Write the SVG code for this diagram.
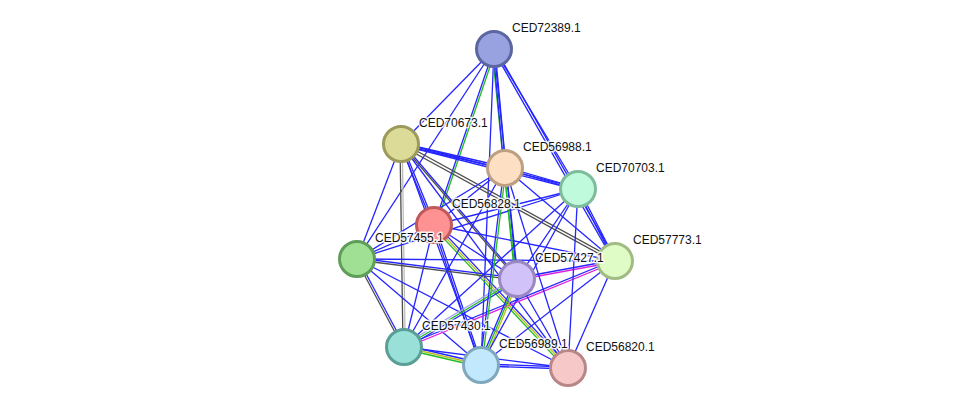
<svg xmlns="http://www.w3.org/2000/svg" width="976" height="414" viewBox="0 0 976 414">
<style>
line{stroke-width:1.3;fill:none}
.b{stroke:#2525ff}
.g{stroke:#22bb22}
.y{stroke:#bcbc22}
.m{stroke:#dd22dd}
.k{stroke:#4e4e4e}
.q{stroke:#bdbdbd}
.l{stroke:#9f9ff0}
circle{stroke-width:3}
text{font-family:"Liberation Sans",Arial,sans-serif;font-size:12px;fill:#111;stroke:#fff;stroke-width:3;stroke-opacity:0.85;paint-order:stroke;stroke-linejoin:round}
</style>
<rect width="976" height="414" fill="#fff"/>
<g id="edges">
<line class="b" x1="494" y1="49" x2="401" y2="144"/>
<line class="b" x1="494" y1="49" x2="357" y2="259"/>
<line class="b" x1="494" y1="49" x2="578" y2="189"/>
<line class="b" x1="494" y1="49" x2="481" y2="365"/>
<line class="b" x1="494" y1="49" x2="434" y2="225"/>
<line class="g" x1="494" y1="49" x2="434" y2="225" transform="translate(2,0)"/>
<line class="b" x1="494" y1="49" x2="517" y2="279"/>
<line class="g" x1="494" y1="49" x2="517" y2="279" transform="translate(-2,0)"/>
<line class="b" x1="494" y1="49" x2="505" y2="168" transform="translate(-1,0)"/>
<line class="b" x1="494" y1="49" x2="505" y2="168" transform="translate(1,0)"/>
<line class="b" x1="494" y1="49" x2="615" y2="261" transform="translate(-1,0.6)"/>
<line class="b" x1="494" y1="49" x2="615" y2="261" transform="translate(1,-0.6)"/>
<line class="b" x1="401" y1="144" x2="357" y2="259"/>
<line class="b" x1="401" y1="144" x2="434" y2="225" transform="translate(-1,0)"/>
<line class="b" x1="401" y1="144" x2="434" y2="225" transform="translate(1,0)"/>
<line class="b" x1="401" y1="144" x2="568" y2="368"/>
<line class="b" x1="401" y1="144" x2="481" y2="365"/>
<line class="b" x1="401" y1="144" x2="517" y2="279" transform="translate(1.2,-1)"/>
<line class="k" x1="401" y1="144" x2="517" y2="279"/>
<line class="b" x1="401" y1="144" x2="505" y2="168" transform="translate(0,-1)"/>
<line class="b" x1="401" y1="144" x2="505" y2="168" transform="translate(0,1)"/>
<line class="b" x1="401" y1="144" x2="578" y2="189" transform="translate(0,-1)"/>
<line class="b" x1="401" y1="144" x2="578" y2="189" transform="translate(0,1)"/>
<line class="k" x1="401" y1="144" x2="615" y2="261" transform="translate(-0.7,1.2)"/>
<line class="k" x1="401" y1="144" x2="615" y2="261" transform="translate(0.7,-1.2)"/>
<line class="k" x1="401" y1="144" x2="404" y2="347" transform="translate(-1,0)"/>
<line class="q" x1="401" y1="144" x2="404" y2="347" transform="translate(1.2,0)"/>
<line class="b" x1="434" y1="225" x2="357" y2="259"/>
<line class="b" x1="434" y1="225" x2="517" y2="279"/>
<line class="b" x1="434" y1="225" x2="615" y2="261"/>
<line class="b" x1="434" y1="225" x2="578" y2="189"/>
<line class="b" x1="434" y1="225" x2="505" y2="168"/>
<line class="b" x1="434" y1="225" x2="404" y2="347"/>
<line class="b" x1="434" y1="225" x2="481" y2="365" transform="translate(-1,0)"/>
<line class="b" x1="434" y1="225" x2="481" y2="365" transform="translate(1,0)"/>
<line class="b" x1="434" y1="225" x2="568" y2="368" transform="translate(1.5,-1.4)"/>
<line class="y" x1="434" y1="225" x2="568" y2="368"/>
<line class="g" x1="434" y1="225" x2="568" y2="368" transform="translate(-1.5,1.4)"/>
<line class="b" x1="357" y1="259" x2="615" y2="261"/>
<line class="b" x1="357" y1="259" x2="481" y2="365"/>
<line class="b" x1="357" y1="259" x2="568" y2="368"/>
<line class="b" x1="357" y1="259" x2="505" y2="168"/>
<line class="b" x1="357" y1="259" x2="578" y2="189"/>
<line class="k" x1="357" y1="259" x2="517" y2="279" transform="translate(0,1)"/>
<line class="b" x1="357" y1="259" x2="517" y2="279" transform="translate(0,-1)"/>
<line class="k" x1="357" y1="259" x2="404" y2="347" transform="translate(-0.9,0.5)"/>
<line class="b" x1="357" y1="259" x2="404" y2="347" transform="translate(0.9,-0.5)"/>
<line class="b" x1="615" y1="261" x2="481" y2="365"/>
<line class="b" x1="615" y1="261" x2="568" y2="368"/>
<line class="b" x1="615" y1="261" x2="505" y2="168"/>
<line class="b" x1="615" y1="261" x2="578" y2="189" transform="translate(-1,0)"/>
<line class="b" x1="615" y1="261" x2="578" y2="189" transform="translate(1,0)"/>
<line class="m" x1="615" y1="261" x2="517" y2="279" transform="translate(0,1)"/>
<line class="b" x1="615" y1="261" x2="517" y2="279" transform="translate(0,-1)"/>
<line class="m" x1="615" y1="261" x2="404" y2="347" transform="translate(0.4,1)"/>
<line class="b" x1="615" y1="261" x2="404" y2="347" transform="translate(-0.4,-1)"/>
<line class="b" x1="517" y1="279" x2="568" y2="368"/>
<line class="b" x1="517" y1="279" x2="578" y2="189"/>
<line class="b" x1="517" y1="279" x2="404" y2="347" transform="translate(1,1.7)"/>
<line class="g" x1="517" y1="279" x2="404" y2="347"/>
<line class="l" x1="517" y1="279" x2="404" y2="347" transform="translate(-1,-1.7)"/>
<line class="b" x1="517" y1="279" x2="481" y2="365" transform="translate(-2,0)"/>
<line class="g" x1="517" y1="279" x2="481" y2="365"/>
<line class="y" x1="517" y1="279" x2="481" y2="365" transform="translate(2,0)"/>
<line class="b" x1="505" y1="168" x2="517" y2="279" transform="translate(1,0)"/>
<line class="g" x1="505" y1="168" x2="517" y2="279" transform="translate(-1,0)"/>
<line class="b" x1="404" y1="347" x2="568" y2="368"/>
<line class="b" x1="404" y1="347" x2="505" y2="168"/>
<line class="b" x1="404" y1="347" x2="578" y2="189"/>
<line class="b" x1="404" y1="347" x2="481" y2="365" transform="translate(0,-2)"/>
<line class="y" x1="404" y1="347" x2="481" y2="365"/>
<line class="g" x1="404" y1="347" x2="481" y2="365" transform="translate(0,2)"/>
<line class="b" x1="481" y1="365" x2="578" y2="189"/>
<line class="b" x1="481" y1="365" x2="505" y2="168" transform="translate(-1,0)"/>
<line class="g" x1="481" y1="365" x2="505" y2="168" transform="translate(1,0)"/>
<line class="b" x1="481" y1="365" x2="568" y2="368" transform="translate(0,-1)"/>
<line class="b" x1="481" y1="365" x2="568" y2="368" transform="translate(0,1)"/>
<line class="b" x1="568" y1="368" x2="505" y2="168"/>
<line class="b" x1="568" y1="368" x2="578" y2="189"/>
<line class="b" x1="505" y1="168" x2="578" y2="189" transform="translate(0,-1)"/>
<line class="b" x1="505" y1="168" x2="578" y2="189" transform="translate(0,1)"/>
</g>
<g id="CED72389.1"><circle cx="494" cy="49" r="17.5" fill="#99a2e1" stroke="#5c67a2"/><text x="512" y="32">CED72389.1</text></g>
<g id="CED70673.1"><circle cx="401" cy="144" r="17.5" fill="#dcdb98" stroke="#9c9b5c"/><text x="419" y="127">CED70673.1</text></g>
<g id="CED56988.1"><circle cx="505" cy="168" r="17.5" fill="#fddfc3" stroke="#bd9f82"/><text x="523" y="151">CED56988.1</text></g>
<g id="CED70703.1"><circle cx="578" cy="189" r="17.5" fill="#c0fadc" stroke="#7ebc9c"/><text x="596" y="172">CED70703.1</text></g>
<g id="CED56828.1"><circle cx="434" cy="225" r="17.5" fill="#fe9292" stroke="#c05a5a"/><text x="452" y="208">CED56828.1</text></g>
<g id="CED57455.1"><circle cx="357" cy="259" r="17.5" fill="#a0e094" stroke="#5e9e58"/><text x="375" y="242">CED57455.1</text></g>
<g id="CED57773.1"><circle cx="615" cy="261" r="17.5" fill="#e0fcc6" stroke="#a0bc84"/><text x="633" y="244">CED57773.1</text></g>
<g id="CED57427.1"><circle cx="517" cy="279" r="17.5" fill="#d1c2fa" stroke="#9a88c0"/><text x="535" y="262">CED57427.1</text></g>
<g id="CED57430.1"><circle cx="404" cy="347" r="17.5" fill="#99e0d8" stroke="#5a9e96"/><text x="422" y="330">CED57430.1</text></g>
<g id="CED56820.1"><circle cx="568" cy="368" r="17.5" fill="#f7c8c8" stroke="#b88888"/><text x="586" y="351">CED56820.1</text></g>
<g id="CED56989.1"><circle cx="481" cy="365" r="17.5" fill="#c1e8fc" stroke="#80a8bc"/><text x="499" y="348">CED56989.1</text></g>
</svg>
